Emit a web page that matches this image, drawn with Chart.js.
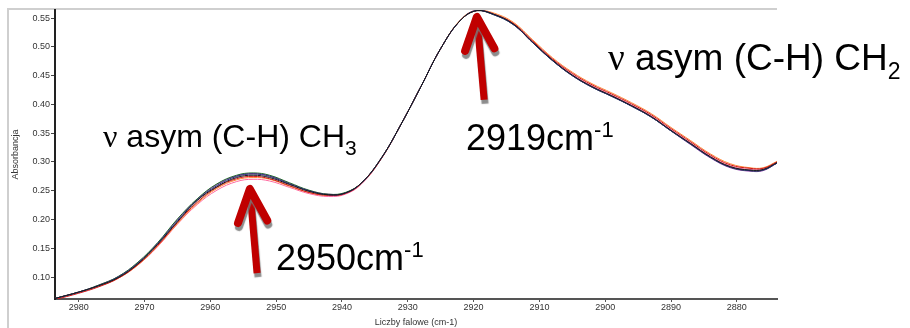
<!DOCTYPE html>
<html lang="pl">
<head>
  <meta charset="UTF-8">
  <title>Widmo FTIR</title>
  <script src="https://cdn.jsdelivr.net/npm/chart.js"></script>
  <style>
    body {
      margin: 0;
      background: #fff;
    }
    #wrap {
      width: 910px;
      height: 328px;
    }
  </style>
</head>
<body>

  <div id="wrap"><canvas id="spectrum" width="910" height="328"></canvas></div>

  <script>
    // wavenumbers (cm-1)
    const wavenumbers = [2983.6, 2980, 2977, 2974, 2971, 2968, 2965, 2962, 2959, 2956, 2953.5, 2951, 2948, 2945, 2942, 2939.5, 2937, 2934, 2931, 2928, 2925, 2922, 2919.5, 2917, 2914, 2911, 2908, 2905, 2902, 2899, 2896, 2893, 2890, 2887, 2884, 2881, 2878, 2876, 2873.9];

    // absorbance of each sample spectrum
    const sampleBlack  = [0.063, 0.074, 0.085, 0.099, 0.123, 0.157, 0.196, 0.233, 0.257, 0.273, 0.277, 0.273, 0.261, 0.249, 0.243, 0.246, 0.264, 0.307, 0.366, 0.431, 0.497, 0.546, 0.563, 0.557, 0.540, 0.508, 0.477, 0.451, 0.431, 0.415, 0.398, 0.379, 0.355, 0.332, 0.309, 0.292, 0.286, 0.287, 0.299];
    const sampleNavy   = [0.063, 0.074, 0.085, 0.100, 0.124, 0.158, 0.198, 0.234, 0.259, 0.275, 0.279, 0.275, 0.262, 0.250, 0.243, 0.246, 0.264, 0.307, 0.366, 0.431, 0.497, 0.546, 0.563, 0.556, 0.539, 0.507, 0.476, 0.450, 0.430, 0.414, 0.397, 0.378, 0.354, 0.331, 0.308, 0.291, 0.285, 0.286, 0.298];
    const sampleGreen  = [0.063, 0.074, 0.086, 0.101, 0.126, 0.160, 0.201, 0.236, 0.262, 0.277, 0.281, 0.277, 0.264, 0.251, 0.244, 0.247, 0.264, 0.307, 0.366, 0.431, 0.497, 0.546, 0.563, 0.556, 0.539, 0.507, 0.476, 0.450, 0.430, 0.414, 0.397, 0.378, 0.354, 0.331, 0.308, 0.291, 0.285, 0.286, 0.298];
    const samplePurple = [0.063, 0.074, 0.086, 0.101, 0.125, 0.159, 0.200, 0.235, 0.261, 0.276, 0.280, 0.276, 0.263, 0.250, 0.244, 0.246, 0.264, 0.307, 0.366, 0.431, 0.497, 0.546, 0.564, 0.557, 0.539, 0.507, 0.476, 0.450, 0.430, 0.414, 0.397, 0.378, 0.354, 0.330, 0.307, 0.290, 0.284, 0.285, 0.298];
    const sampleRed    = [0.061, 0.072, 0.083, 0.098, 0.122, 0.155, 0.195, 0.230, 0.256, 0.271, 0.275, 0.271, 0.259, 0.247, 0.242, 0.245, 0.263, 0.306, 0.366, 0.431, 0.497, 0.546, 0.563, 0.557, 0.541, 0.510, 0.479, 0.454, 0.434, 0.418, 0.401, 0.382, 0.358, 0.335, 0.312, 0.295, 0.289, 0.289, 0.300];
    const sampleOrange = [0.063, 0.074, 0.084, 0.098, 0.121, 0.154, 0.193, 0.228, 0.254, 0.269, 0.273, 0.270, 0.258, 0.247, 0.242, 0.246, 0.264, 0.307, 0.366, 0.431, 0.497, 0.547, 0.564, 0.559, 0.543, 0.512, 0.481, 0.456, 0.436, 0.420, 0.403, 0.384, 0.360, 0.337, 0.314, 0.297, 0.290, 0.290, 0.301];
    const samplePink   = [0.062, 0.073, 0.084, 0.098, 0.121, 0.153, 0.192, 0.226, 0.251, 0.266, 0.270, 0.267, 0.256, 0.245, 0.240, 0.244, 0.262, 0.306, 0.366, 0.431, 0.497, 0.546, 0.563, 0.557, 0.541, 0.509, 0.478, 0.452, 0.432, 0.416, 0.399, 0.380, 0.356, 0.333, 0.310, 0.293, 0.287, 0.288, 0.300];

    const xTicks = [2980, 2970, 2960, 2950, 2940, 2930, 2920, 2910, 2900, 2890, 2880];
    const yTicks = [0.10, 0.15, 0.20, 0.25, 0.30, 0.35, 0.40, 0.45, 0.50, 0.55];

    // peak arrows: [tip wavenumber, tip absorbance, tail wavenumber, tail absorbance]
    const arrows = [
      [2919.5, 0.552, 2918.4, 0.408],
      [2954.0, 0.253, 2952.9, 0.107]
    ];

    // dataset 0 is drawn on top
    const series = [
      { values: sampleBlack,  color: '#1a1a1a' },
      { values: sampleNavy,   color: '#2a2a80' },
      { values: sampleGreen,  color: '#1f6a2a' },
      { values: samplePurple, color: '#8a3aa8' },
      { values: sampleRed,    color: '#d01818' },
      { values: sampleOrange, color: '#ff8a3a' },
      { values: samplePink,   color: '#ff6aa0' }
    ];

    const sans = "'Liberation Sans', Arial, sans-serif";

    // draw text runs side by side, each with its own size and shift
    function drawRuns(ctx, x, y, runs) {
      for (const r of runs) {
        ctx.font = r.font;
        ctx.fillText(r.t, x, y + (r.dy || 0));
        x += ctx.measureText(r.t).width;
      }
    }

    const decorations = {
      id: 'decorations',
      beforeDraw(chart) {
        const ctx = chart.ctx;
        ctx.save();
        ctx.strokeStyle = '#cfcfcf';
        ctx.lineWidth = 2;
        ctx.beginPath();
        ctx.moveTo(8, 328);
        ctx.lineTo(8, 9);
        ctx.lineTo(777, 9);
        ctx.stroke();
        ctx.restore();
      },
      afterDraw(chart) {
        const ctx = chart.ctx;
        const xs = chart.scales.x, ys = chart.scales.y;

        // arrows
        for (const a of arrows) {
          const tx = xs.getPixelForValue(a[0]), ty = ys.getPixelForValue(a[1]);
          const bx = xs.getPixelForValue(a[2]), by = ys.getPixelForValue(a[3]);
          const ang = Math.atan2(by - ty, bx - tx);
          const len = 36, spread = 0.42;
          ctx.save();
          ctx.strokeStyle = '#c00000';
          ctx.shadowColor = 'rgba(120,120,120,0.85)';
          ctx.shadowOffsetX = 1;
          ctx.shadowOffsetY = 4;
          ctx.shadowBlur = 1;
          ctx.lineWidth = 7;
          ctx.lineCap = 'butt';
          ctx.beginPath();
          ctx.moveTo(tx, ty);
          ctx.lineTo(bx, by);
          ctx.stroke();
          ctx.lineWidth = 8;
          ctx.lineCap = 'round';
          ctx.lineJoin = 'round';
          ctx.beginPath();
          ctx.moveTo(tx + len * Math.cos(ang - spread), ty + len * Math.sin(ang - spread));
          ctx.lineTo(tx, ty);
          ctx.lineTo(tx + len * Math.cos(ang + spread), ty + len * Math.sin(ang + spread));
          ctx.stroke();
          ctx.restore();
        }

        // labels
        ctx.save();
        ctx.fillStyle = '#000';
        ctx.textBaseline = 'alphabetic';
        drawRuns(ctx, 103, 147, [
          { t: 'ν', font: "32px 'Liberation Serif', serif" },
          { t: ' asym (C-H) CH', font: '32px ' + sans },
          { t: '3', font: '21px ' + sans, dy: 8 }
        ]);
        drawRuns(ctx, 608, 70, [
          { t: 'ν', font: "37px 'Liberation Serif', serif" },
          { t: ' asym (C-H) CH', font: '37px ' + sans },
          { t: '2', font: '23px ' + sans, dy: 9 }
        ]);
        drawRuns(ctx, 466, 150, [
          { t: '2919cm', font: '36px ' + sans },
          { t: '-1', font: '22px ' + sans, dy: -13 }
        ]);
        drawRuns(ctx, 276, 270, [
          { t: '2950cm', font: '36px ' + sans },
          { t: '-1', font: '22px ' + sans, dy: -13 }
        ]);
        ctx.restore();
      }
    };

    new Chart(document.getElementById('spectrum'), {
      type: 'line',
      data: {
        datasets: series.map(s => ({
          data: s.values.map((v, i) => ({ x: wavenumbers[i], y: v })),
          borderColor: s.color,
          borderWidth: 1,
          pointRadius: 0,
          tension: 0.4,
          fill: false
        }))
      },
      options: {
        responsive: false,
        animation: false,
        layout: { padding: { left: 0, right: 133, top: 10, bottom: 0 } },
        plugins: {
          legend: { display: false },
          tooltip: { enabled: false }
        },
        scales: {
          x: {
            type: 'linear',
            reverse: true,
            min: 2873.9,
            max: 2983.6,
            afterBuildTicks: sc => { sc.ticks = xTicks.map(v => ({ value: v })); },
            afterFit: sc => { sc.height = 29; },
            ticks: {
              font: { size: 9, family: sans },
              color: '#333',
              padding: 0,
              maxRotation: 0,
              autoSkip: false,
              callback: v => String(v)
            },
            grid: { drawOnChartArea: false, tickLength: 3, color: '#555' },
            border: { color: '#555', width: 2 },
            title: {
              display: true,
              text: 'Liczby falowe (cm-1)',
              font: { size: 9, family: sans },
              color: '#333',
              padding: { top: 0, bottom: 0 }
            }
          },
          y: {
            min: 0.062,
            max: 0.564,
            afterBuildTicks: sc => { sc.ticks = yTicks.map(v => ({ value: v })); },
            afterFit: sc => { sc.width = 55; },
            ticks: {
              font: { size: 9, family: sans },
              color: '#333',
              padding: 1,
              autoSkip: false,
              callback: v => v.toFixed(2)
            },
            grid: { drawOnChartArea: false, tickLength: 4, color: '#444' },
            border: { color: '#222', width: 2 },
            title: {
              display: true,
              text: 'Absorbancja',
              font: { size: 9, family: sans },
              color: '#333',
              padding: { top: 10, bottom: 0 }
            }
          }
        }
      },
      plugins: [decorations]
    });
  </script>

</body>
</html>
